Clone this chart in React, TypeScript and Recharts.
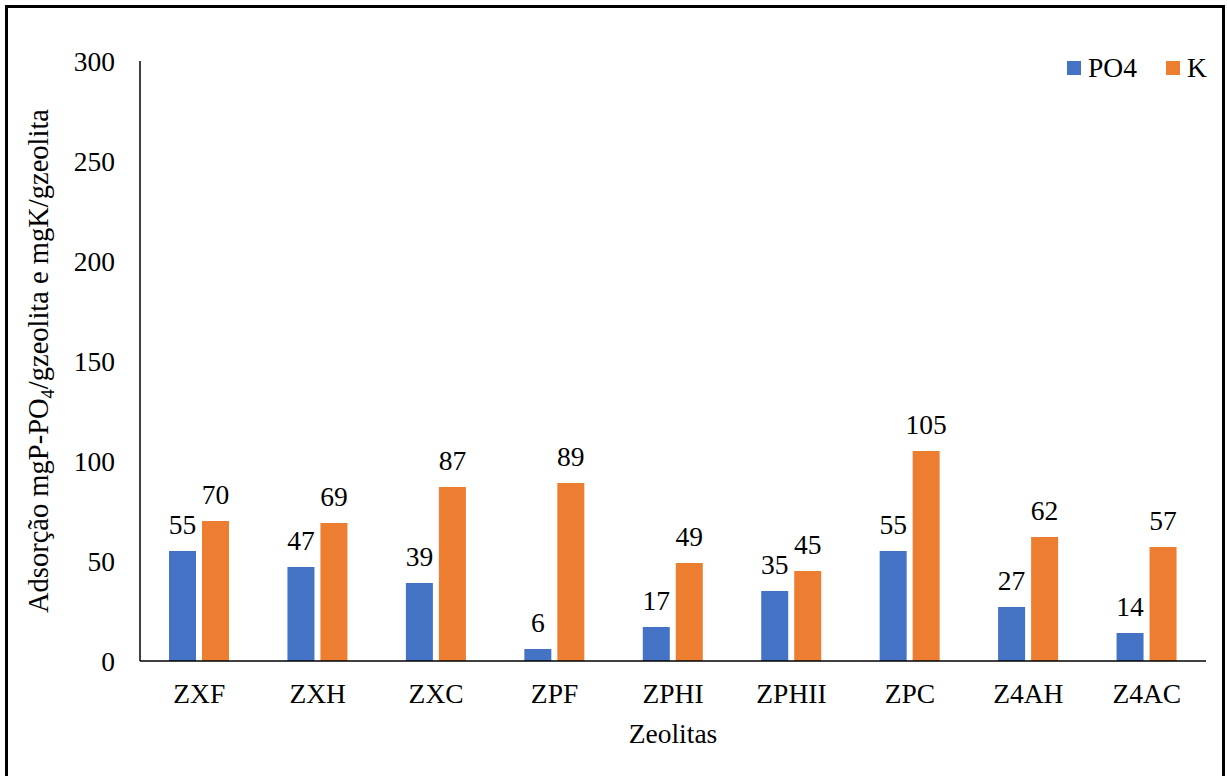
import React from 'react';
import { BarChart, Bar, XAxis, YAxis, LabelList, Label } from 'recharts';

const categories = ['ZXF', 'ZXH', 'ZXC', 'ZPF', 'ZPHI', 'ZPHII', 'ZPC', 'Z4AH', 'Z4AC'];
const po4Values = [55, 47, 39, 6, 17, 35, 55, 27, 14];
const kValues = [70, 69, 87, 89, 49, 45, 105, 62, 57];
const yTicks = [0, 50, 100, 150, 200, 250, 300];

const data = categories.map((c, i) => ({ name: c, PO4: po4Values[i], K: kValues[i] }));

const FONT = '"Liberation Serif", "Times New Roman", serif';
const FS = 27.5;
const BLUE = '#4472C4';
const ORANGE = '#ED7D31';

const legendItems = [
  { label: 'PO4', color: BLUE },
  { label: 'K', color: ORANGE },
];

const LegendBox = () => (
  <div
    style={{
      position: 'absolute',
      left: 1067,
      top: 53,
      display: 'flex',
      alignItems: 'center',
      fontFamily: FONT,
      fontSize: FS,
      color: '#000',
      lineHeight: '30px',
    }}
  >
    {legendItems.map((it, i) => (
      <div key={it.label} style={{ display: 'flex', alignItems: 'center', marginLeft: i === 0 ? 0 : 29 }}>
        <div style={{ width: 14, height: 14, background: it.color, marginRight: 7 }} />
        <span>{it.label}</span>
      </div>
    ))}
  </div>
);

const YTitle = (props: any) => {
  const vb = props.viewBox || { x: 0, y: 0, width: 0, height: 0 };
  const cx = 48;
  const cy = vb.y + vb.height / 2;
  const fs = 28.5;
  return (
    <text
      x={cx}
      y={cy}
      transform={`rotate(-90, ${cx}, ${cy})`}
      textAnchor="middle"
      fontFamily={FONT}
      fontSize={fs}
      fill="#000"
    >
      Adsorção mgP-PO<tspan fontSize={fs * 0.65} dy={6}>4</tspan>
      <tspan dy={-6}>/gzeolita e mgK/gzeolita</tspan>
    </text>
  );
};

const XTitle = (props: any) => {
  const vb = props.viewBox || { x: 0, y: 0, width: 0, height: 0 };
  const cx = vb.x + vb.width / 2;
  return (
    <text x={cx} y={743} textAnchor="middle" fontFamily={FONT} fontSize={FS} fill="#000">
      Zeolitas
    </text>
  );
};

export default function App() {
  return (
    <div style={{ position: 'absolute', left: 0, top: 0, width: 1227, height: 776, overflow: 'hidden', background: '#fff' }}>
      <div
        style={{
          position: 'absolute',
          left: 5,
          top: 5,
          width: 1220,
          height: 800,
          border: '3px solid #000',
          boxSizing: 'border-box',
        }}
      />
      <div style={{ position: 'absolute', left: 0, top: 0 }}>
        <BarChart
          width={1227}
          height={776}
          data={data}
          margin={{ top: 61, right: 21, bottom: 85, left: 0 }}
          barGap={6}
          barSize={27}
        >
          <XAxis
            dataKey="name"
            height={30}
            tickLine={false}
            tickSize={0}
            tickMargin={22.5}
            axisLine={{ stroke: '#000', strokeWidth: 1.5 }}
            tick={{ fontFamily: FONT, fontSize: FS, fill: '#000' }}
            interval={0}
          >
            <Label content={<XTitle />} position="insideBottom" />
          </XAxis>
          <YAxis
            width={140}
            domain={[0, 300]}
            ticks={yTicks}
            tickLine={false}
            tickSize={0}
            tickMargin={25}
            axisLine={{ stroke: '#000', strokeWidth: 1.5 }}
            tick={{ fontFamily: FONT, fontSize: FS, fill: '#000' }}
          >
            <Label content={<YTitle />} position="insideLeft" />
          </YAxis>
          <Bar dataKey="PO4" fill={BLUE} isAnimationActive={false}>
            <LabelList dataKey="PO4" position="top" offset={17} style={{ fontFamily: FONT, fontSize: FS, fill: '#000' }} />
          </Bar>
          <Bar dataKey="K" fill={ORANGE} isAnimationActive={false}>
            <LabelList dataKey="K" position="top" offset={17} style={{ fontFamily: FONT, fontSize: FS, fill: '#000' }} />
          </Bar>
        </BarChart>
      </div>
      <LegendBox />
    </div>
  );
}
